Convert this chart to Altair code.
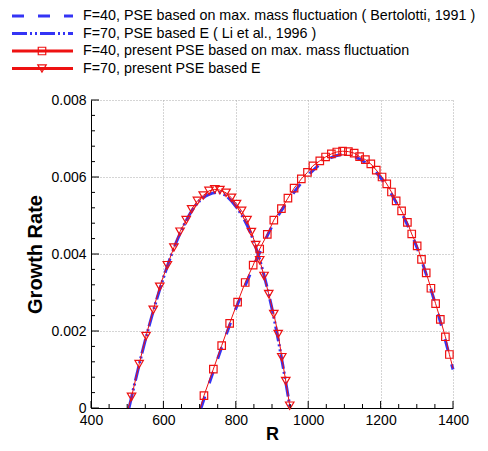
import altair as alt
import pandas as pd

# ---------------- data ----------------
# F=40, present PSE based on max. mass fluctuation (red squares)
r40 = [712, 738, 761, 783, 805, 826, 848, 866, 887, 905, 926, 944, 961, 981, 998,
       1013, 1032, 1048, 1064, 1079, 1095, 1111, 1127, 1142, 1158, 1173, 1188, 1204,
       1217, 1230, 1243, 1258, 1274, 1286, 1301, 1313, 1326, 1339, 1352, 1365, 1379, 1390]
g40 = [0.00032, 0.00101, 0.00162, 0.00220, 0.00275, 0.00326, 0.00371, 0.00413, 0.00451,
       0.00488, 0.00518, 0.00545, 0.00571, 0.00595, 0.00612, 0.00629, 0.00642, 0.00652,
       0.00660, 0.00665, 0.00667, 0.00666, 0.00662, 0.00653, 0.00645, 0.00634, 0.00618,
       0.00600, 0.00582, 0.00561, 0.00538, 0.00512, 0.00482, 0.00452, 0.00421, 0.00386,
       0.00351, 0.00311, 0.00271, 0.00230, 0.00185, 0.00139]
# ends of the red F=40 curve
r40_ends = [702, 1400]
g40_ends = [0.0, 0.00103]

# F=70, present PSE based E (red triangles)
r70 = [512, 533, 552, 572, 590, 611, 629, 646, 663, 678, 694, 710, 726, 742, 756,
       773, 788, 802, 816, 831, 843, 855, 866, 878, 891, 905, 917, 927, 938, 949]
g70 = [0.00029, 0.00114, 0.00187, 0.00255, 0.00315, 0.00371, 0.00417, 0.00458, 0.00488,
       0.00516, 0.00538, 0.00552, 0.00564, 0.00568, 0.00566, 0.00559, 0.00546, 0.00530,
       0.00512, 0.00488, 0.00457, 0.00423, 0.00384, 0.00343, 0.00296, 0.00244, 0.00192,
       0.00132, 0.00070, 0.00006]
r70_ends = [503, 951]
g70_ends = [0.0, 0.0]

# F=40, PSE (Bertolotti, 1991) - blue dashed
rB40 = [704, 750, 800, 850, 900, 950, 1000, 1050, 1100, 1150, 1200, 1250, 1300, 1350, 1400]
gB40 = [0.0, 0.00128, 0.00258, 0.00370, 0.00472, 0.00546, 0.00605, 0.00644, 0.00659,
        0.00642, 0.00598, 0.00522, 0.00418, 0.00274, 0.00100]

# F=70, PSE (Li et al., 1996) - blue dash-dot-dot
rB70 = [505, 550, 600, 650, 700, 750, 800, 850, 900, 950]
gB70 = [0.0, 0.00176, 0.00338, 0.00462, 0.00538, 0.00560, 0.00524, 0.00432, 0.00258, 0.0]

legend_labels = [
    "F=40, PSE based on max. mass fluctuation ( Bertolotti, 1991 )",
    "F=70, PSE based E ( Li et al., 1996 )",
    "F=40, present PSE based on max. mass fluctuation",
    "F=70, present PSE based E",
]

x_major = [400, 600, 800, 1000, 1200, 1400]
x_minor = [450, 500, 550, 650, 700, 750, 850, 900, 950, 1050, 1100, 1150, 1250, 1300, 1350]
y_major = [0.0, 0.002, 0.004, 0.006, 0.008]
y_minor = [0.0004, 0.0008, 0.0012, 0.0016, 0.0024, 0.0028, 0.0032, 0.0036,
           0.0044, 0.0048, 0.0052, 0.0056, 0.0064, 0.0068, 0.0072, 0.0076]

# ---------------- style ----------------
BLUE = "#3434f5"
RED = "#ee1111"
FONT = "Liberation Sans"
W, H = 362, 308

xs = alt.Scale(domain=[400, 1400], nice=False, zero=False)
ys = alt.Scale(domain=[0, 0.008], nice=False, zero=False)
x_axis = alt.Axis(values=x_major, format="d", title="R", grid=True, ticks=False,
                  labelPadding=5, labelFlush=False, titleFontSize=18,
                  titleBaseline="alphabetic", titleY=31)
y_axis = alt.Axis(values=y_major, title="Growth Rate", grid=True, ticks=False,
                  labelExpr="datum.value == 0 ? '0' : format(datum.value, '.3f')",
                  labelPadding=5, labelFlush=False, titleFontSize=20,
                  titleBaseline="middle", titleAlign="center", titleX=-56, titleY=H / 2)


def X():
    return alt.X("R:Q", scale=xs, axis=x_axis)


def Y():
    return alt.Y("G:Q", scale=ys, axis=y_axis)


df_b40 = pd.DataFrame({"R": rB40, "G": gB40})
df_b70 = pd.DataFrame({"R": rB70, "G": gB70})
df_p40 = pd.DataFrame({"R": r40, "G": g40})
df_p70 = pd.DataFrame({"R": r70, "G": g70})
df_l40 = pd.DataFrame({"R": [r40_ends[0]] + r40 + [r40_ends[1]],
                       "G": [g40_ends[0]] + g40 + [g40_ends[1]]})
df_l70 = pd.DataFrame({"R": [r70_ends[0]] + r70 + [r70_ends[1]],
                       "G": [g70_ends[0]] + g70 + [g70_ends[1]]})

blue40 = alt.Chart(df_b40).mark_line(color=BLUE, strokeWidth=3, strokeDash=[12, 14],
                                     interpolate="monotone").encode(x=X(), y=Y())
blue70 = alt.Chart(df_b70).mark_line(color=BLUE, strokeWidth=3, strokeDash=[15, 3, 2, 3, 2, 3],
                                     interpolate="monotone").encode(x=X(), y=Y())
red40 = alt.Chart(df_l40).mark_line(color=RED, strokeWidth=1).encode(x=X(), y=Y())
red70 = alt.Chart(df_l70).mark_line(color=RED, strokeWidth=1).encode(x=X(), y=Y())
pts40 = alt.Chart(df_p40).mark_point(shape="square", size=56, filled=False, color=RED,
                                     strokeWidth=1.2, opacity=1).encode(x=X(), y=Y())
pts70 = alt.Chart(df_p70).mark_point(shape="triangle-down", size=72, filled=False, color=RED,
                                     strokeWidth=1.2, opacity=1).encode(x=X(), y=Y())

# inward ticks
xt_major = alt.Chart(pd.DataFrame({"R": x_major})).mark_rule(color="black", strokeWidth=1).encode(
    x=X(), y=alt.value(H), y2=alt.value(H - 7))
xt_minor = alt.Chart(pd.DataFrame({"R": x_minor})).mark_rule(color="black", strokeWidth=1).encode(
    x=X(), y=alt.value(H), y2=alt.value(H - 4))
yt_major = alt.Chart(pd.DataFrame({"G": y_major})).mark_rule(color="black", strokeWidth=1).encode(
    y=Y(), x=alt.value(0), x2=alt.value(8))
yt_minor = alt.Chart(pd.DataFrame({"G": y_minor})).mark_rule(color="black", strokeWidth=1).encode(
    y=Y(), x=alt.value(0), x2=alt.value(4))

main = alt.layer(blue40, blue70, red40, red70, pts40, pts70,
                 xt_minor, xt_major, yt_minor, yt_major)

# ---------------- legend (above the plot) ----------------
leg_df = pd.DataFrame({"row": [0, 1, 2, 3], "label": legend_labels})
leg_y = alt.Y("row:Q", scale=alt.Scale(domain=[0, 3], range=[-84, -31.5]), axis=None)

leg_lines = alt.Chart(leg_df).mark_rule().encode(
    x=alt.value(-79), x2=alt.value(-18), y=leg_y,
    color=alt.Color("label:N", scale=alt.Scale(domain=legend_labels, range=[BLUE, BLUE, RED, RED]),
                    legend=None),
    strokeDash=alt.StrokeDash("label:N", scale=alt.Scale(
        domain=legend_labels, range=[[12, 14], [15, 3, 2, 3, 2, 3], [1, 0], [1, 0]]), legend=None),
    strokeWidth=alt.StrokeWidth("label:N", scale=alt.Scale(domain=legend_labels, range=[3, 3, 1, 1]),
                                legend=None),
)
leg_text = alt.Chart(leg_df).mark_text(align="left", baseline="middle", fontSize=14.3, font=FONT,
                                       color="black").encode(
    x=alt.value(-8), y=leg_y, text="label:N")
leg_pts = alt.Chart(leg_df[leg_df["row"] >= 2]).mark_point(filled=False, color=RED, strokeWidth=1.2,
                                                         opacity=1).encode(
    x=alt.value(-49), y=leg_y,
    shape=alt.Shape("label:N", scale=alt.Scale(domain=legend_labels[2:],
                                                range=["square", "triangle-down"]), legend=None),
    size=alt.Size("label:N", scale=alt.Scale(domain=legend_labels[2:], range=[56, 72]), legend=None),
)
legend = alt.layer(leg_lines, leg_pts, leg_text)

chart = alt.layer(main, legend).resolve_scale(
    y="independent", x="independent", color="independent",
    strokeDash="independent", strokeWidth="independent", shape="independent", size="independent"
).properties(
    width=W, height=H,
    autosize=alt.AutoSizeParams(type="none"),
    padding={"left": 83, "top": 92, "right": 27, "bottom": 35},
).configure_view(stroke=None).configure_axis(
    labelFont=FONT, labelFontSize=14, labelColor="black",
    titleFont=FONT, titleFontWeight="bold", titleColor="black",
    domainColor="black", domainWidth=1,
    gridColor="#aaaaaa", gridDash=[1, 2], gridWidth=1, gridOpacity=1,
)

chart.save("out.html", embed_options={"renderer": "svg", "actions": False})
